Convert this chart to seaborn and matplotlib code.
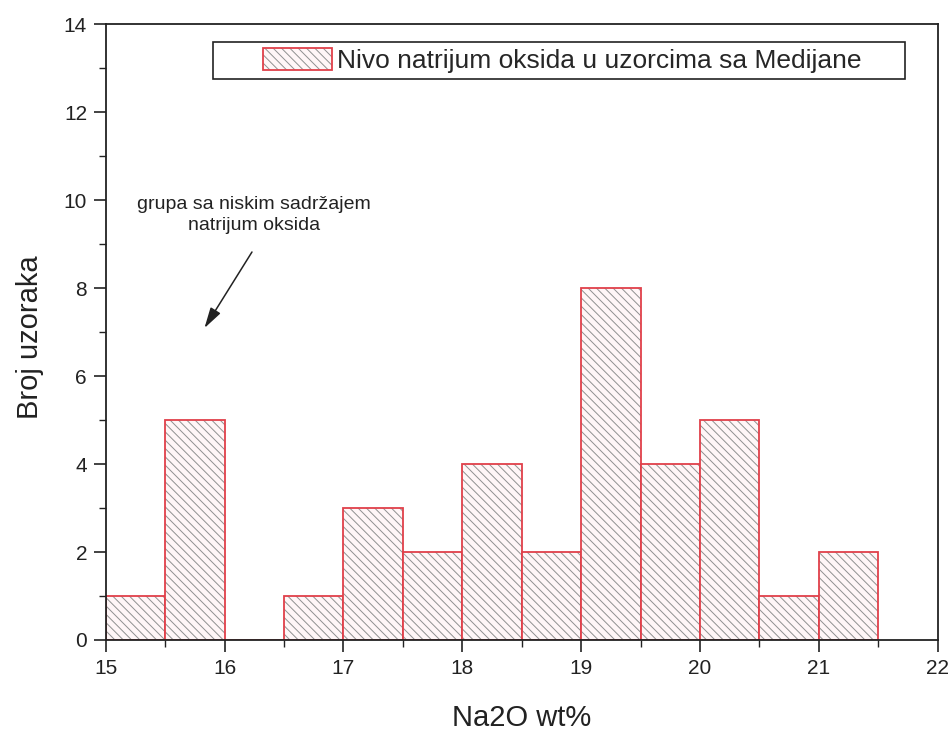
import numpy as np
import matplotlib
matplotlib.use("Agg")
import matplotlib.pyplot as plt
from matplotlib.colors import to_rgba
from matplotlib.patches import Rectangle
import seaborn as sns

bin_centers = [15.25, 15.75, 16.25, 16.75, 17.25, 17.75, 18.25, 18.75, 19.25, 19.75, 20.25, 20.75, 21.25]
counts = [1, 5, 0, 1, 3, 2, 4, 2, 8, 4, 5, 1, 2]
bin_edges = [15.0, 15.5, 16.0, 16.5, 17.0, 17.5, 18.0, 18.5, 19.0, 19.5, 20.0, 20.5, 21.0, 21.5]
legend_label = "Nivo natrijum oksida u uzorcima sa Medijane"
annotation_text = "grupa sa niskim sadržajem\nnatrijum oksida"

sns.set_style("ticks")
plt.rcParams['font.family'] = ['Liberation Sans', 'DejaVu Sans']
plt.rcParams['hatch.linewidth'] = 0.7

INK = '#222222'
RED = '#e0404a'
HATCH = '#909090'

fig = plt.figure(figsize=(9.53, 7.31), dpi=100)
ax = fig.add_axes([0.111, 0.1245, 0.873, 0.8425])

sns.histplot(x=bin_centers, weights=counts, bins=bin_edges, ax=ax,
             color="#fff6f7", edgecolor=RED, linewidth=1.3, alpha=1,
             hatch="\\\\\\\\", label=legend_label)
hc = to_rgba(HATCH)
for p in ax.patches:
    p._hatch_color = hc
    if hasattr(p, "set_hatchcolor"):
        try:
            p.set_hatchcolor(HATCH)
        except Exception:
            pass

ax.set_xlim(15, 22)
ax.set_ylim(0, 14)
ax.set_xticks(np.arange(15, 23, 1))
ax.set_xticks(np.arange(15, 22.01, 0.5), minor=True)
ax.set_yticks(np.arange(0, 15, 2))
ax.set_yticks(np.arange(0, 14.01, 1), minor=True)
ax.tick_params(axis='both', which='major', direction='out', length=8.5, width=1.2,
               labelsize=15, color=INK, labelcolor=INK, pad=5)
ax.tick_params(axis='both', which='minor', direction='out', length=5, width=1.0, color=INK)
for s in ax.spines.values():
    s.set_visible(True)
    s.set_linewidth(1.3)
    s.set_color(INK)

ax.set_xlabel("Na2O wt%", fontsize=21, color=INK, va='center')
ax.set_ylabel("Broj uzoraka", fontsize=21, color=INK, va='center')
ax.xaxis.set_label_coords(0.5, -0.1266)
ax.yaxis.set_label_coords(-0.091, 0.492)

# legend with wide rectangular frame
ax.add_patch(Rectangle((0.1286, 0.9107), 0.8317, 0.0601, transform=ax.transAxes,
                       fill=True, facecolor='white', edgecolor=INK, linewidth=1.2, zorder=4))
leg = ax.legend(loc='center left', bbox_to_anchor=(0.1887, 0.9407), fontsize=19,
                frameon=False, borderpad=0, borderaxespad=0,
                handlelength=2.61, handleheight=0.91, handletextpad=0.2)
leg.set_zorder(5)
for h in leg.legend_handles:
    h._hatch_color = hc
    if hasattr(h, "set_hatchcolor"):
        try:
            h.set_hatchcolor(HATCH)
        except Exception:
            pass

ax.text(16.25, 9.66, annotation_text, ha='center', va='center', fontsize=14,
        color=INK, linespacing=1.35)
ax.annotate("", xy=(15.83, 7.09), xytext=(16.23, 8.82),
            arrowprops=dict(arrowstyle='-|>,head_length=0.9,head_width=0.25', color=INK,
                            lw=1.1, shrinkA=0, shrinkB=0, mutation_scale=14))

fig.savefig("out.png", dpi=100)
